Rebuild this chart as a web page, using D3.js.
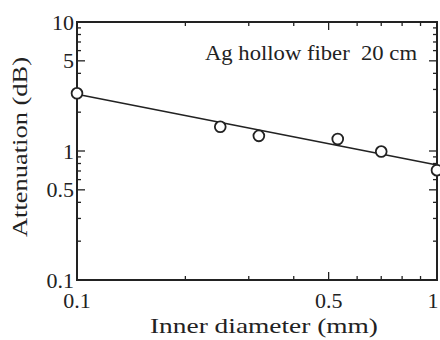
<!DOCTYPE html>
<html><head><meta charset="utf-8">
<script src="https://cdn.jsdelivr.net/npm/d3@7/dist/d3.min.js"></script>
<style>body{margin:0;background:#fff}svg{display:block}text{font-family:"Liberation Serif","DejaVu Serif",serif;fill:#222}</style>
</head><body>
<script>
const diameters = [0.1, 0.25, 0.32, 0.53, 0.7, 1.0];
const attenuation = [2.8, 1.54, 1.31, 1.24, 0.99, 0.71];
const fitX = [0.1, 1.0];
const fitY = [2.75, 0.78];
const xTickLabels = [0.1, 0.5, 1];
const yTickLabels = [0.1, 0.5, 1, 5, 10];

const W = 440, H = 340;
const m = {l: 77, r: 3, t: 22, b: 60};
const svg = d3.select("body").append("svg").attr("width", W).attr("height", H);
const x = d3.scaleLog().domain([0.1, 1]).range([m.l, W - m.r]);
const y = d3.scaleLog().domain([0.1, 10]).range([H - m.b, m.t]);
const ink = "#222";

const xMinor = [0.2,0.3,0.4,0.6,0.7,0.8,0.9];
const yMinor = [0.2,0.3,0.4,0.6,0.7,0.8,0.9,2,3,4,6,7,8,9];
const xMajor = [0.5];
const yMajor = [0.5, 1, 5];

const g = svg.append("g");
function ticks(axis, vals, len) {
  vals.forEach(v => {
    if (axis === "x") {
      g.append("line").attr("x1", x(v)).attr("x2", x(v)).attr("y1", y.range()[0]).attr("y2", y.range()[0] - len).attr("stroke", ink).attr("stroke-width", 1.3);
      g.append("line").attr("x1", x(v)).attr("x2", x(v)).attr("y1", y.range()[1]).attr("y2", y.range()[1] + len).attr("stroke", ink).attr("stroke-width", 1.3);
    } else {
      g.append("line").attr("y1", y(v)).attr("y2", y(v)).attr("x1", x.range()[0]).attr("x2", x.range()[0] + len).attr("stroke", ink).attr("stroke-width", 1.3);
      g.append("line").attr("y1", y(v)).attr("y2", y(v)).attr("x1", x.range()[1]).attr("x2", x.range()[1] - len).attr("stroke", ink).attr("stroke-width", 1.3);
    }
  });
}
ticks("x", xMinor, 4); ticks("x", xMajor, 8);
ticks("y", yMinor, 4); ticks("y", yMajor, 8);

g.append("rect").attr("x", m.l).attr("y", m.t).attr("width", x.range()[1] - m.l).attr("height", y.range()[0] - m.t)
  .attr("fill", "none").attr("stroke", ink).attr("stroke-width", 2);

// fit line
const line = d3.line().x(d => x(d[0])).y(d => y(d[1]));
svg.append("path").datum(fitX.map((v, i) => [v, fitY[i]])).attr("d", line)
  .attr("fill", "none").attr("stroke", ink).attr("stroke-width", 1.6);

// points
svg.selectAll("circle.pt").data(diameters.map((v, i) => [v, attenuation[i]])).enter().append("circle")
  .attr("cx", d => x(d[0])).attr("cy", d => y(d[1])).attr("r", 5.4)
  .attr("fill", "#fff").attr("stroke", ink).attr("stroke-width", 1.8);

// tick labels
xTickLabels.forEach(v => {
  svg.append("text").attr("x", x(v) - (v === 1 ? 4 : 0)).attr("y", 308).attr("text-anchor", "middle").attr("font-size", 22).text(v);
});
yTickLabels.forEach(v => {
  svg.append("text").attr("x", 74).attr("y", y(v) + 7.5).attr("text-anchor", "end").attr("font-size", 22).text(v);
});

svg.append("text").attr("x", 150).attr("y", 333).attr("font-size", 22)
  .attr("textLength", 228).attr("lengthAdjust", "spacingAndGlyphs").text("Inner diameter (mm)");
svg.append("text").attr("transform", "translate(27,237) rotate(-90)").attr("font-size", 22)
  .attr("textLength", 180).attr("lengthAdjust", "spacingAndGlyphs").text("Attenuation (dB)");
svg.append("text").attr("x", 205).attr("y", 60).attr("font-size", 21).attr("xml:space", "preserve")
  .attr("textLength", 212).attr("lengthAdjust", "spacingAndGlyphs").text("Ag hollow fiber  20 cm");
</script>
</body></html>
